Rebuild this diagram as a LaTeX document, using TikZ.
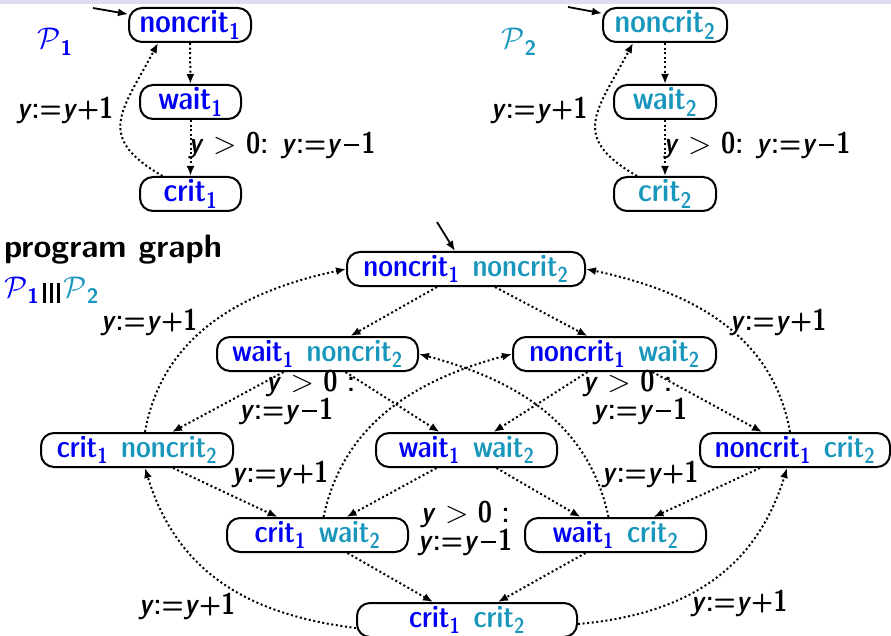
\documentclass[tikz,border=0pt]{standalone}
\usetikzlibrary{arrows.meta}
\definecolor{pone}{RGB}{0,0,245}
\definecolor{ptwo}{RGB}{25,150,188}
\definecolor{band}{RGB}{221,221,242}
\newcommand{\yy}{\textit{y}}
\newcommand{\mn}{\kern0.08em\rule[0.22em]{0.5em}{0.075em}\kern0.08em}
\newcommand{\incr}{\yy:=\yy+1}
\newcommand{\decr}{\yy:=\yy\mn1}
\newcommand{\gtz}{\yy\ > 0}
\newcommand{\ga}[1]{{\color{pone}#1\textsubscript{1}}}
\newcommand{\gb}[1]{{\color{ptwo}#1\textsubscript{2}}}
\newcommand{\calP}[1]{\scalebox{1.2}{$\mathcal{P}$}\textsubscript{\bfseries #1}}
\newcommand{\vbarr}{\rule[-6pt]{2.4pt}{20pt}}
\newcommand{\gap}{\hspace{0.42em}}
\newcommand{\Fsz}[1]{\fontsize{#1}{22}\sffamily\fontseries{sbc}\selectfont}
\tikzset{
  loc/.style={draw, line width=2pt, rounded corners=13pt, minimum height=34pt, inner sep=0pt},
  toploc/.style={loc, font=\Fsz{32.5}},
  prodloc/.style={loc, font=\Fsz{31}},
  tr/.style={line width=2pt, dash pattern=on 2pt off 2.6pt, -{Latex[length=10pt,width=8pt]}},
  init/.style={line width=1.8pt, -{Latex[length=10pt,width=8pt]}},
  lbl/.style={inner sep=0pt, align=center, font=\Fsz{30}},
  lbll/.style={inner sep=0pt, align=left, font=\Fsz{30}, anchor=base},
}
\begin{document}
\begin{tikzpicture}[x=1pt,y=1pt]
\useasboundingbox (0,0) rectangle (891,-636);
\fill[band] (0,0) rectangle (891,-4.5);

% ---- P1 ----
\node[lbl, text=pone] (p1) at (55,-42) {\calP{1}};
\node[toploc, minimum width=122pt] (n1) at (190,-25) {\ga{noncrit}};
\node[toploc, minimum width=101pt] (w1) at (190.5,-102) {\ga{wait}};
\node[toploc, minimum width=101pt] (c1) at (190.5,-194) {\ga{crit}};
\coordinate (i1) at (93,-8);
\draw[init] (i1) -- (n1);
\draw[tr] (n1) -- (w1);
\draw[tr] (w1) -- (c1);
\draw[tr] ([xshift=-28pt]c1.north) to[out=150,in=-118,looseness=1.5] ([xshift=-32pt]n1.south);
\node[lbl] (l1a) at (65,-110) {\incr};
\node[lbl] (l1b) at (282,-145) {\gtz: \decr};

% ---- P2 ----
\node[lbl, text=ptwo] (p2) at (519,-42) {\calP{2}};
\node[toploc, minimum width=124pt] (n2) at (665,-25) {\gb{noncrit}};
\node[toploc, minimum width=102pt] (w2) at (665,-102) {\gb{wait}};
\node[toploc, minimum width=102pt] (c2) at (665,-194) {\gb{crit}};
\coordinate (i2) at (568,-7);
\draw[init] (i2) -- (n2);
\draw[tr] (n2) -- (w2);
\draw[tr] (w2) -- (c2);
\draw[tr] ([xshift=-28pt]c2.north) to[out=150,in=-118,looseness=1.5] ([xshift=-32pt]n2.south);
\node[lbl] (l2a) at (539,-110) {\incr};
\node[lbl] (l2b) at (757,-145) {\gtz: \decr};

% ---- titles ----
\node[anchor=west, inner sep=0pt, font=\fontsize{32.5}{32.5}\sffamily\bfseries] (pg) at (4,-250) {program graph};
\node[anchor=base west, inner sep=0pt, font=\Fsz{30}] (pp) at (4,-297) {{\color{pone}\calP{1}}\kern4pt\vbarr\kern4.5pt\vbarr\kern4.5pt\vbarr\kern4pt{\color{ptwo}\calP{2}}};

% ---- product nodes ----
\node[prodloc, minimum width=238pt] (NN) at (466,-269) {\ga{noncrit}\gap\gb{noncrit}};
\node[prodloc, minimum width=201pt] (WN) at (317.5,-354) {\ga{wait}\gap\gb{noncrit}};
\node[prodloc, minimum width=203pt] (NW) at (614.5,-354) {\ga{noncrit}\gap\gb{wait}};
\node[prodloc, minimum width=192pt] (CN) at (137,-450) {\ga{crit}\gap\gb{noncrit}};
\node[prodloc, minimum width=181pt] (WW) at (466.5,-450) {\ga{wait}\gap\gb{wait}};
\node[prodloc, minimum width=190pt] (NC) at (795,-450) {\ga{noncrit}\gap\gb{crit}};
\node[prodloc, minimum width=181pt] (CW) at (317.5,-535) {\ga{crit}\gap\gb{wait}};
\node[prodloc, minimum width=181pt] (WC) at (615.5,-535) {\ga{wait}\gap\gb{crit}};
\node[prodloc, minimum width=220pt] (CC) at (467,-620) {\ga{crit}\gap\gb{crit}};

\coordinate (i0) at (437,-222);
\draw[init] (i0) -- (NN);

\draw[tr] ([xshift=-29pt]NN.south) -- ([xshift=33pt]WN.north);
\draw[tr] ([xshift=29pt]NN.south) -- ([xshift=-27pt]NW.north);
\draw[tr] ([xshift=-34pt]WN.south) -- ([xshift=35pt]CN.north);
\draw[tr] ([xshift=28pt]WN.south) -- ([xshift=-27pt]WW.north);
\draw[tr] ([xshift=-27pt]NW.south) -- ([xshift=27pt]WW.north);
\draw[tr] ([xshift=38pt]NW.south) -- ([xshift=-33pt]NC.north);
\draw[tr] ([xshift=36pt]CN.south) -- ([xshift=-40pt]CW.north);
\draw[tr] ([xshift=-30pt]WW.south) -- ([xshift=29pt]CW.north);
\draw[tr] ([xshift=30pt]WW.south) -- ([xshift=-35pt]WC.north);
\draw[tr] ([xshift=-35pt]NC.south) -- ([xshift=38pt]WC.north);
\draw[tr] ([xshift=30pt]CW.south) -- ([xshift=-34pt]CC.north);
\draw[tr] ([xshift=-30pt]WC.south) -- ([xshift=31pt]CC.north);

\draw[tr] ([xshift=8pt]CN.north) to[out=80,in=192] (NN.west);
\draw[tr] ([xshift=-5pt]NC.north) to[out=100,in=-12] (NN.east);
\draw[tr] ([yshift=-8pt]CC.west) to[out=173,in=-73,looseness=1.05] ([xshift=8pt]CN.south);
\draw[tr] ([yshift=-4pt]CC.east) to[out=5,in=-107,looseness=1.05] ([xshift=-8pt]NC.south);
\draw[tr] ([xshift=6pt]CW.north) to[out=78,in=195] (NW.west);
\draw[tr] ([xshift=-7pt]WC.north) to[out=102,in=-15] (WN.east);

% ---- labels ----
\node[lbl] (la) at (149,-322) {\incr};
\node[lbl] (lb) at (778,-322) {\incr};
\node[lbll] (lc) at (297,-419) {\hspace*{27pt}\gtz\ :\\\decr};
\node[lbll] (ld) at (635,-419) {\gtz\ :\\\hspace*{10pt}\decr};
\node[lbl, anchor=base] (lg) at (465,-550) {\gtz\ :\\\decr};
\node[lbl] (le) at (280,-474) {\incr};
\node[lbl] (lf) at (650,-474) {\incr};
\node[lbl] (lh) at (187,-606) {\incr};
\node[lbl] (li) at (739,-603) {\incr};
\end{tikzpicture}
\end{document}
